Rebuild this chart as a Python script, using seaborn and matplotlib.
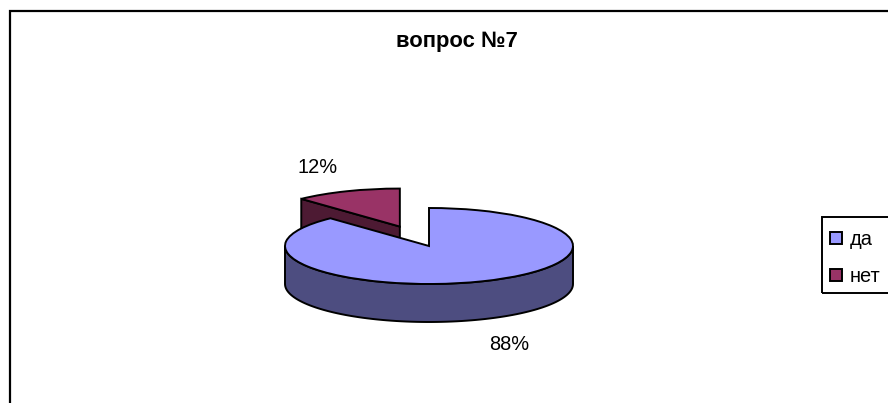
import numpy as np
import matplotlib
matplotlib.use('Agg')
import matplotlib.pyplot as plt
from matplotlib.patches import Polygon, Rectangle
import seaborn as sns

# chart data
answers = ['да', 'нет']
shares = [88, 12]
chart_title = 'вопрос №7'

# top faces and darker side walls
top_colors = ['#9999FF', '#993366']
wall_colors = ['#4D4D80', '#4D1A33']

W, H = 888, 403
CX, CY = 429, 246   # pie centre, pixels from top left
RX, RY = 144, 38    # ellipse radii, one data unit on each axis
EXPLODE = [0, 0.55]
LW = 1.4

sns.set_theme(style='white')
plt.rcParams['font.family'] = ['Liberation Sans', 'DejaVu Sans']
plt.rcParams['text.color'] = 'black'

fig = plt.figure(figsize=(W / 100, H / 100), dpi=100, facecolor='white')
ax = fig.add_axes([0, 0, 1, 1])


def px(x, y):
    return x / W, 1 - y / H


wedges, _ = ax.pie(shares, colors=top_colors, startangle=90, counterclock=False,
                   explode=EXPLODE, wedgeprops={'edgecolor': 'black', 'linewidth': LW})
ax.set_aspect('auto')
ax.set_xlim(-CX / RX, (W - CX) / RX)
ax.set_ylim(-(H - CY) / RY, CY / RY)
ax.axis('off')
for w in wedges:
    w.set_zorder(3)

# rim of the big slice (front half only shows)
t = np.radians(np.linspace(180, 360, 90))
rim_x, rim_y = np.cos(t), np.sin(t)
ax.add_patch(Polygon(np.r_[np.c_[rim_x, rim_y], np.c_[rim_x, rim_y - 1][::-1]],
                     facecolor=wall_colors[0], edgecolor='black', linewidth=LW, zorder=2))

# cut face of the pulled out slice
end = 2 * np.pi * shares[0] / sum(shares)
mid = 2 * np.pi * (shares[0] + shares[1] / 2) / sum(shares)
ox, oy = EXPLODE[1] * np.sin(mid), EXPLODE[1] * np.cos(mid)
rx, ry = ox + np.sin(end), oy + np.cos(end)
ax.add_patch(Polygon([(ox, oy), (rx, ry), (rx, ry - 1), (ox, oy - 1)],
                     facecolor=wall_colors[1], edgecolor='black', linewidth=LW, zorder=1))

# percent labels
fig.text(*px(509, 344), f'{shares[0]}%', ha='center', va='center', fontsize=14.4)
fig.text(*px(318, 168), f'{shares[1]}%', ha='center', va='center', fontsize=14.4)

fig.text(*px(457, 46.5), chart_title, ha='center', va='baseline', fontsize=15.8,
         fontweight='bold')

# legend box runs off the right edge like the source, so frame is drawn apart
fig.add_artist(Rectangle(px(822, 293), 100 / W, 76 / H, transform=fig.transFigure,
                         fill=False, edgecolor='black', linewidth=LW, clip_on=False))
fig.legend(wedges, answers, loc='upper left', bbox_to_anchor=px(822, 222),
           fontsize=14.4, frameon=False, borderaxespad=0, borderpad=0.4,
           handlelength=0.6, handleheight=0.6, handletextpad=0.4, labelspacing=0.9)

# chart area border, right and bottom sides fall outside the image
fig.add_artist(Rectangle(px(10, 420), 1000 / W, 409 / H, transform=fig.transFigure,
                         fill=False, edgecolor='black', linewidth=1.6, clip_on=False))

fig.savefig('out.png', dpi=100)
